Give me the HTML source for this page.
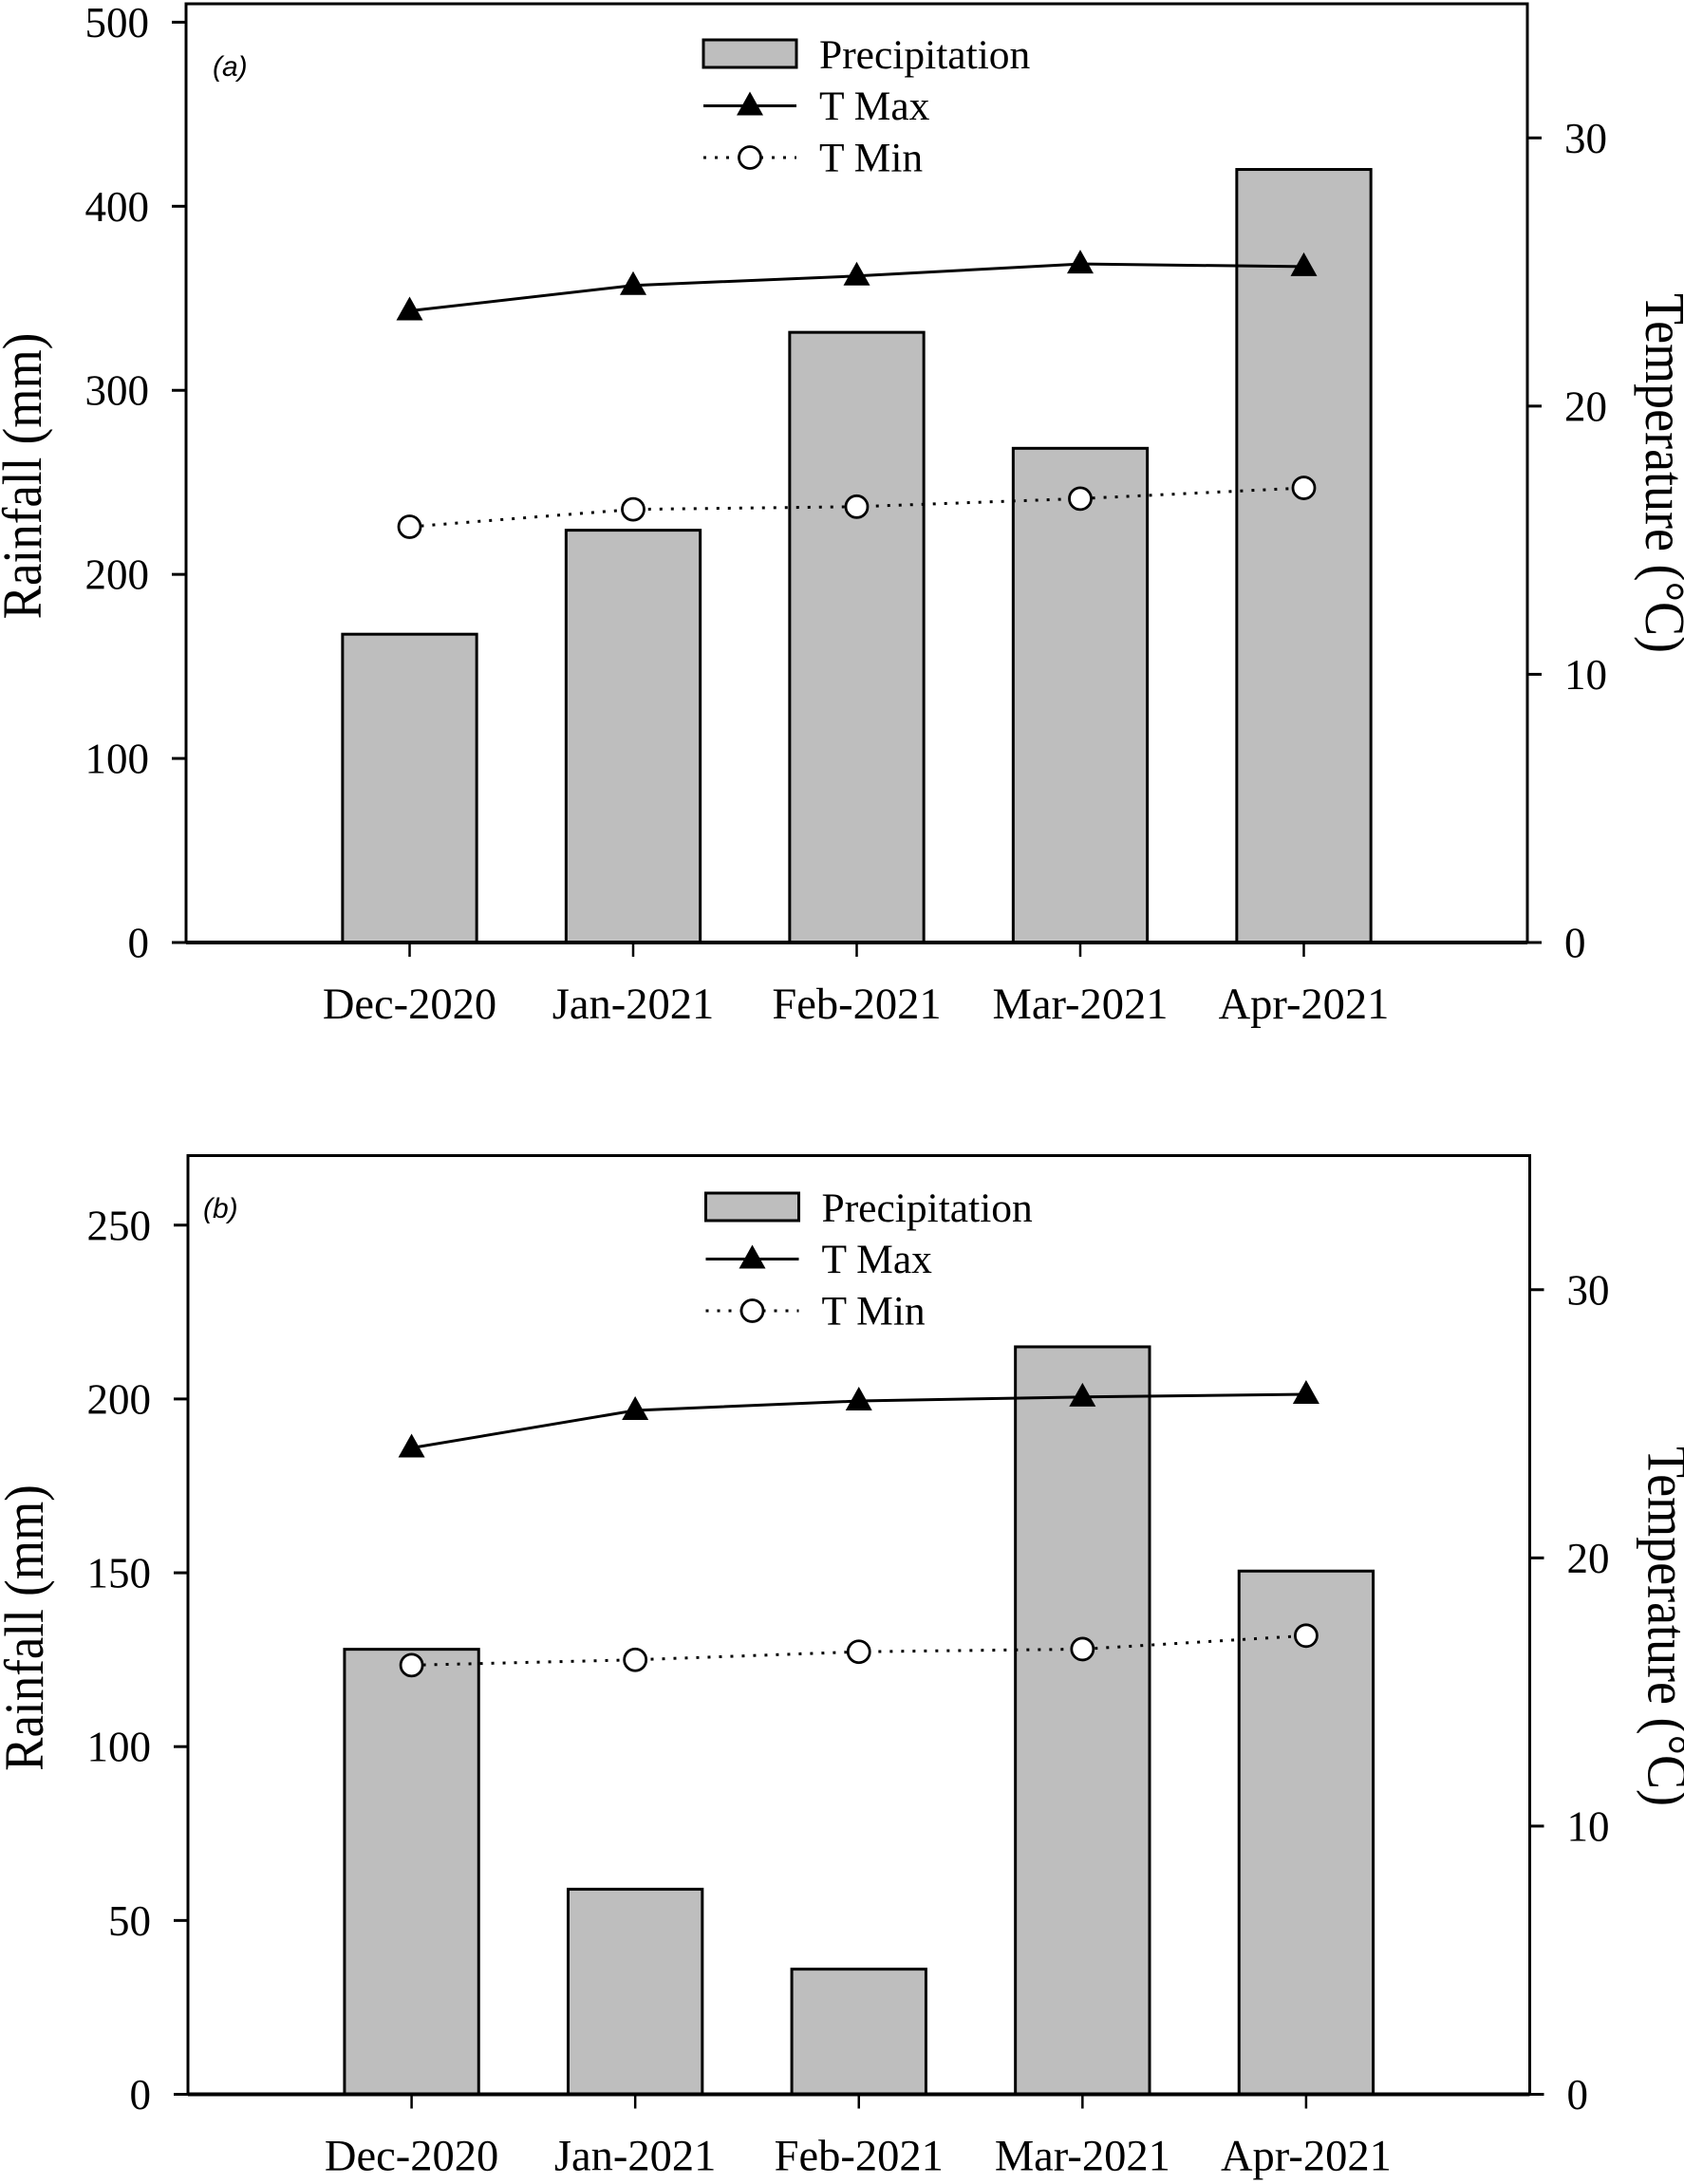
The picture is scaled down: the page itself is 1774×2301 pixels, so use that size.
<!DOCTYPE html>
<html lang="en">
<head>
<meta charset="utf-8">
<title>Rainfall and temperature, panels a and b</title>
<style>
  html, body { margin: 0; padding: 0; background: #fff; }
  svg { display: block; }
  text { font-family: "Liberation Serif", serif; fill: #000; }
  .panel-tag { font-family: "Liberation Sans", sans-serif; font-style: italic; }
</style>
</head>
<body>
<svg id="chart" xmlns="http://www.w3.org/2000/svg" width="1774" height="2301" viewBox="0 0 1774 2301"></svg>
<script>
const categories = ["Dec-2020", "Jan-2021", "Feb-2021", "Mar-2021", "Apr-2021"];
const rainTicksA = [0, 100, 200, 300, 400, 500];
const rainTicksB = [0, 50, 100, 150, 200, 250];
const tempTicks = [0, 10, 20, 30];
const rainfallA = [167.5, 224, 331.5, 268.5, 420];
const tMaxA = [23.55, 24.5, 24.85, 25.3, 25.2];
const tMinA = [15.5, 16.15, 16.25, 16.55, 16.95];
const rainfallB = [128, 59, 36, 215, 150.5];
const tMaxB = [24.1, 25.5, 25.85, 26.0, 26.1];
const tMinB = [16.0, 16.2, 16.5, 16.6, 17.1];
const rainMaxA = 510;
const rainMaxB = 270;
const tempMax = 35;
const seriesNames = ["Precipitation", "T Max", "T Min"];

const svg = document.getElementById('chart');
const NS = 'http://www.w3.org/2000/svg';

function make(parent, tag, attrs, content) {
  const el = document.createElementNS(NS, tag);
  for (const k in attrs) el.setAttribute(k, attrs[k]);
  if (content !== undefined) el.textContent = content;
  parent.appendChild(el);
  return el;
}

function trianglePoints(cx, cy) {
  return (cx - 14) + ',' + (cy + 10) + ' ' + (cx + 14) + ',' + (cy + 10) + ' ' + cx + ',' + (cy - 15);
}

function drawPanel(cfg) {
  const g = make(svg, 'g', {});
  
  

  const xScale = i => cfg.left + (i + 1) * (cfg.right - cfg.left) / (categories.length + 1);
  const rainScale = v => cfg.bottom - v * (cfg.bottom - cfg.top) / cfg.rainMax;
  const tempScale = v => cfg.bottom - v * (cfg.bottom - cfg.top) / tempMax;
  const bandWidth = (cfg.right - cfg.left) / (categories.length + 1);
  const barWidth = bandWidth * 0.6;

  const frame = make(g, 'rect', { x: cfg.left, y: cfg.top, width: cfg.right - cfg.left, height: cfg.bottom - cfg.top, fill: '#fff', stroke: '#000', 'stroke-width': 3 });
  
  

  cfg.rain.forEach((v, i) => {
    const bar = make(g, 'rect', { x: xScale(i) - barWidth / 2, y: rainScale(v), width: barWidth, height: cfg.bottom - rainScale(v), fill: '#bebebe', stroke: '#000', 'stroke-width': 3 });
    
    
  });

  const baseline = make(g, 'line', { x1: cfg.left, x2: cfg.right, y1: cfg.bottom, y2: cfg.bottom, stroke: '#000', 'stroke-width': 4 });
  
  

  cfg.rainTicks.forEach(v => {
    const y = rainScale(v);
    const tick = make(g, 'line', { x1: cfg.left - 15, x2: cfg.left, y1: y, y2: y, stroke: '#000', 'stroke-width': 3 });
    
    
    const label = make(g, 'text', { x: cfg.left - 39, y: y + 15.5, 'text-anchor': 'end', 'font-size': 45 }, String(v));
    
    
  });

  tempTicks.forEach(v => {
    const y = tempScale(v);
    const tick = make(g, 'line', { x1: cfg.right, x2: cfg.right + 15, y1: y, y2: y, stroke: '#000', 'stroke-width': 3 });
    
    
    const label = make(g, 'text', { x: cfg.right + 39, y: y + 15.5, 'font-size': 45 }, String(v));
    
    
  });

  categories.forEach((c, i) => {
    const x = xScale(i);
    const tick = make(g, 'line', { x1: x, x2: x, y1: cfg.bottom, y2: cfg.bottom + 15, stroke: '#000', 'stroke-width': 2.5 });
    
    
    const label = make(g, 'text', { x: x, y: cfg.bottom + 80, 'text-anchor': 'middle', 'font-size': 46.5 }, c);
    
    
  });

  const minPts = cfg.tMin.map((v, i) => xScale(i) + ',' + tempScale(v)).join(' ');
  const minLine = make(g, 'polyline', { points: minPts, fill: 'none', stroke: '#000', 'stroke-width': 3, 'stroke-dasharray': '3 9' });
  
  

  const maxPts = cfg.tMax.map((v, i) => xScale(i) + ',' + tempScale(v)).join(' ');
  const maxLine = make(g, 'polyline', { points: maxPts, fill: 'none', stroke: '#000', 'stroke-width': 3 });
  
  

  cfg.tMax.forEach((v, i) => {
    const m = make(g, 'polygon', { points: trianglePoints(xScale(i), tempScale(v)), fill: '#000' });
    
    
  });

  cfg.tMin.forEach((v, i) => {
    const m = make(g, 'circle', { cx: xScale(i), cy: tempScale(v), r: 11.5, fill: '#fff', stroke: '#000', 'stroke-width': 2.8 });
    
    
  });

  const leg = make(g, 'g', {});
  
  
  const lx = cfg.legendX, ly = cfg.legendY;
  const swatch = make(leg, 'rect', { x: lx, y: ly, width: 98, height: 29, fill: '#bebebe', stroke: '#000', 'stroke-width': 3 });
  
  
  const l1 = make(leg, 'line', { x1: lx, x2: lx + 98, y1: ly + 69.5, y2: ly + 69.5, stroke: '#000', 'stroke-width': 3 });
  
  
  const l1m = make(leg, 'polygon', { points: trianglePoints(lx + 49, ly + 69.5), fill: '#000' });
  
  
  const l2 = make(leg, 'line', { x1: lx, x2: lx + 98, y1: ly + 124, y2: ly + 124, stroke: '#000', 'stroke-width': 3, 'stroke-dasharray': '3 9' });
  
  
  const l2m = make(leg, 'circle', { cx: lx + 49, cy: ly + 124, r: 11.5, fill: '#fff', stroke: '#000', 'stroke-width': 2.8 });
  
  
  const t1 = make(leg, 'text', { x: lx + 122, y: ly + 30, 'font-size': 43.5 }, seriesNames[0]);
  
  
  const t2 = make(leg, 'text', { x: lx + 122, y: ly + 84, 'font-size': 43.5 }, seriesNames[1]);
  
  
  const t3 = make(leg, 'text', { x: lx + 122, y: ly + 138.5, 'font-size': 43.5 }, seriesNames[2]);
  
  

  const tag = make(g, 'text', { class: 'panel-tag', x: cfg.tagX, y: cfg.tagY, 'font-size': 30 }, '(' + cfg.tag + ')');
  
  

  const midY = (cfg.top + cfg.bottom) / 2;
  const yLeftX = cfg.left - 153;
  const ttl = make(g, 'text', { x: 0, y: 0, 'text-anchor': 'middle', 'font-size': 53, transform: 'translate(' + yLeftX + ' ' + (midY + cfg.titleDy) + ') rotate(-90) scale(1 1.09)' }, 'Rainfall (mm)');
  
  
  const yRightX = cfg.right + 125;
  const ttr = make(g, 'text', { x: 0, y: 0, 'text-anchor': 'middle', 'font-size': 54, transform: 'translate(' + yRightX + ' ' + (midY + cfg.titleDyR) + ') rotate(90) scale(1 1.09)' }, 'Temperature (°C)');
  
  
}

drawPanel({
  tag: 'a', left: 196, right: 1609, top: 4, bottom: 993,
  rainMax: rainMaxA, rain: rainfallA, tMax: tMaxA, tMin: tMinA, rainTicks: rainTicksA,
  legendX: 741, legendY: 42, tagX: 224, tagY: 80, titleDy: 3, titleDyR: 0
});
drawPanel({
  tag: 'b', left: 198, right: 1611.5, top: 1217.5, bottom: 2206.5,
  rainMax: rainMaxB, rain: rainfallB, tMax: tMaxB, tMin: tMinB, rainTicks: rainTicksB,
  legendX: 743.5, legendY: 1257, tagX: 214, tagY: 1283, titleDy: 3, titleDyR: 1.5
});
</script>
</body>
</html>
